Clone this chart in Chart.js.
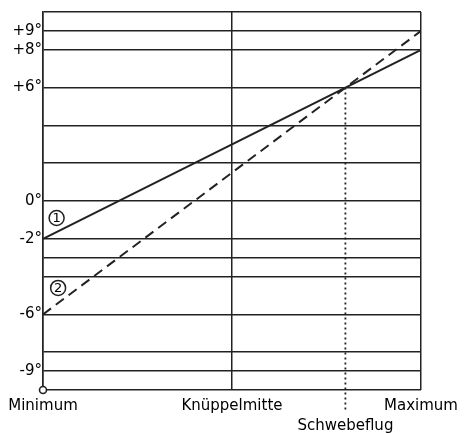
<!DOCTYPE html>
<html>
<head>
<meta charset="utf-8">
<script src="https://cdn.jsdelivr.net/npm/chart.js@4"></script>
<style>
  html, body { margin: 0; padding: 0; background: #fff; }
  #wrap { width: 464px; height: 433px; }
</style>
</head>
<body>
<div id="wrap"><canvas id="pitch_chart"></canvas></div>
<script>
// stick position: 0 = Minimum, 50 = Knueppelmitte, 100 = Maximum
const stick_positions = [0, 100];
const curve_1 = [-2, 8];
const curve_2 = [-6, 9];

const hover_position = 80;
const hover_pitch = 6;

const y_grid_values = [-10, -9, -8, -6, -4, -3, -2, 0, 2, 4, 6, 8, 9, 10];
const y_tick_labels = { 9: "+9°", 8: "+8°", 6: "+6°", 0: "0°", "-2": "-2°", "-6": "-6°", "-9": "-9°" };

const x_tick_values = [0, 50, 80, 100];
const x_tick_labels = ["Minimum", "Knüppelmitte", ["", "Schwebeflug"], "Maximum"];

// circled curve numbers
const marker_names = ["1", "2"];
const marker_x = [3.6, 4];
const marker_y = [-0.9, -4.6];

const ink = "#222";
const text_ink = "#000";
const font_family = "'DejaVu Sans', Verdana, sans-serif";

const circled_numbers = {
  id: "circled_numbers",
  afterDatasetsDraw(chart) {
    const ctx = chart.ctx;
    const xs = chart.scales.x;
    const ys = chart.scales.y;
    ctx.save();
    marker_names.forEach((name, i) => {
      const px = xs.getPixelForValue(marker_x[i]);
      const py = ys.getPixelForValue(marker_y[i]);
      ctx.beginPath();
      ctx.arc(px, py, 7.5, 0, Math.PI * 2);
      ctx.fillStyle = "#fff";
      ctx.fill();
      ctx.lineWidth = 1.5;
      ctx.strokeStyle = ink;
      ctx.stroke();
      ctx.fillStyle = text_ink;
      ctx.font = "13px " + font_family;
      ctx.textAlign = "center";
      ctx.textBaseline = "middle";
      ctx.fillText(name, px, py + 0.5);
    });
    ctx.restore();
  },
};

new Chart(document.getElementById("pitch_chart"), {
  type: "scatter",
  data: {
    datasets: [
      {
        label: "1",
        data: stick_positions.map((x, i) => ({ x: x, y: curve_1[i] })),
        showLine: true,
        borderColor: ink,
        borderWidth: 2,
        pointRadius: 0,
      },
      {
        label: "2",
        data: stick_positions.map((x, i) => ({ x: x, y: curve_2[i] })),
        showLine: true,
        borderColor: ink,
        borderWidth: 2,
        borderDash: [10, 6],
        pointRadius: 0,
      },
      {
        label: "Schwebeflug",
        data: [
          { x: hover_position, y: hover_pitch },
          { x: hover_position, y: -11.1 },
        ],
        showLine: true,
        borderColor: ink,
        borderWidth: 1.8,
        borderDash: [2, 3],
        pointRadius: 0,
        clip: false,
      },
      {
        label: "origin",
        data: [{ x: 0, y: -10 }],
        pointRadius: 3.5,
        pointBackgroundColor: "#fff",
        pointBorderColor: ink,
        pointBorderWidth: 1.6,
        clip: false,
      },
    ],
  },
  options: {
    responsive: true,
    maintainAspectRatio: false,
    animation: false,
    layout: { padding: { top: 12, right: 43, left: 0, bottom: 0 } },
    plugins: {
      legend: { display: false },
      tooltip: { enabled: false },
    },
    scales: {
      x: {
        type: "linear",
        min: 0,
        max: 100,
        afterBuildTicks: (scale) => {
          scale.ticks = x_tick_values.map((v) => ({ value: v }));
        },
        afterFit: (scale) => {
          scale.height = 43;
        },
        grid: {
          color: (c) => (c.tick && c.tick.value === hover_position ? "rgba(0,0,0,0)" : ink),
          lineWidth: 1.5,
          drawTicks: false,
        },
        border: { display: false },
        ticks: {
          autoSkip: false,
          maxRotation: 0,
          padding: 6,
          color: text_ink,
          font: { family: font_family, size: 15, lineHeight: 1.35 },
          callback: (value) => x_tick_labels[x_tick_values.indexOf(value)],
        },
      },
      y: {
        type: "linear",
        min: -10,
        max: 10,
        afterBuildTicks: (scale) => {
          scale.ticks = y_grid_values.map((v) => ({ value: v }));
        },
        afterFit: (scale) => {
          scale.width = 43;
        },
        grid: {
          color: ink,
          lineWidth: 1.5,
          drawTicks: false,
        },
        border: { display: true, color: ink, width: 1.5 },
        ticks: {
          autoSkip: false,
          padding: 1,
          color: text_ink,
          font: { family: font_family, size: 15 },
          callback: (value) => y_tick_labels[value] || "",
        },
      },
    },
  },
  plugins: [circled_numbers],
});
</script>
</body>
</html>
